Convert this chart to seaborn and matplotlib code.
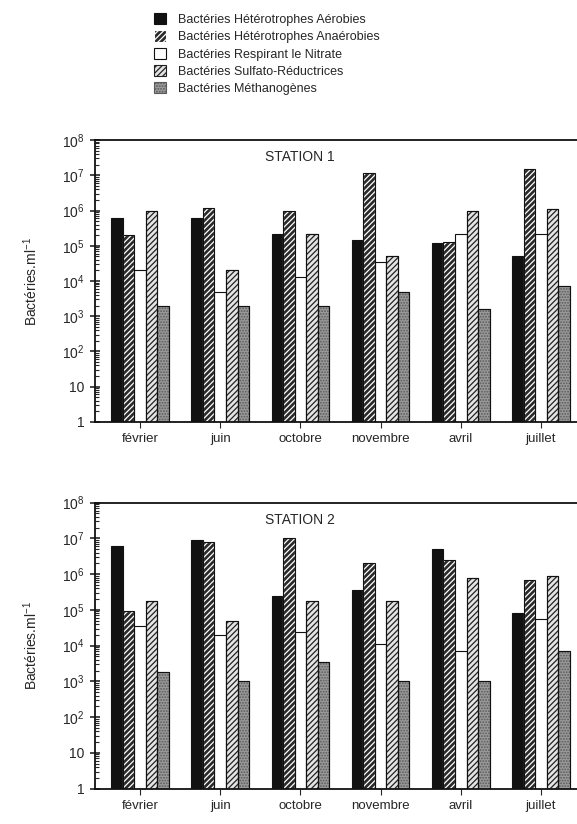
# Abondance des groupes bactériens - stations 1 et 2
import numpy as np
import pandas as pd
import matplotlib.pyplot as plt
import seaborn as sns
from matplotlib.patches import Patch, Rectangle
from matplotlib.ticker import FuncFormatter, LogLocator, NullFormatter

mois = ["février", "juin", "octobre", "novembre", "avril", "juillet"]
groupes = ["Bactéries Hétérotrophes Aérobies",
           "Bactéries Hétérotrophes Anaérobies",
           "Bactéries Respirant le Nitrate",
           "Bactéries Sulfato-Réductrices",
           "Bactéries Méthanogènes"]

# Station 1 (bactéries / ml)
s1_aerobies = [6e5, 6e5, 2.2e5, 1.5e5, 1.2e5, 5e4]
s1_anaerobies = [2e5, 1.2e6, 1e6, 1.2e7, 1.3e5, 1.5e7]
s1_nitrate = [2e4, 5e3, 1.3e4, 3.5e4, 2.2e5, 2.2e5]
s1_sulfato = [1e6, 2e4, 2.2e5, 5e4, 1e6, 1.1e6]
s1_methano = [2e3, 2e3, 2e3, 5e3, 1.6e3, 7e3]

# Station 2
s2_aerobies = [6e6, 9e6, 2.5e5, 3.5e5, 5e6, 8e4]
s2_anaerobies = [9e4, 8e6, 1e7, 2e6, 2.5e6, 7e5]
s2_nitrate = [3.5e4, 2e4, 2.4e4, 1.1e4, 7e3, 5.5e4]
s2_sulfato = [1.8e5, 5e4, 1.8e5, 1.8e5, 8e5, 9e5]
s2_methano = [1.8e3, 1e3, 3.5e3, 1e3, 1e3, 7e3]

stations = {
    "STATION 1": [s1_aerobies, s1_anaerobies, s1_nitrate, s1_sulfato, s1_methano],
    "STATION 2": [s2_aerobies, s2_anaerobies, s2_nitrate, s2_sulfato, s2_methano],
}

# style de remplissage de chaque groupe : (fond, couleur des hachures, hachures)
styles = [("#111111", "#111111", ""),
          ("#2a2a2a", "white", "//////"),
          ("white", "#111111", ""),
          ("#e4e4e4", "#222222", "//////"),
          ("#9a9a9a", "#5a5a5a", "......")]

sns.set_style("ticks")
plt.rcParams["font.family"] = ["Liberation Sans", "DejaVu Sans"]
plt.rcParams["mathtext.fontset"] = "custom"
plt.rcParams["mathtext.rm"] = "Liberation Sans"
plt.rcParams["hatch.linewidth"] = 0.9


def etiquette(v, pos):
    n = int(round(np.log10(v)))
    if n == 0:
        return "1"
    if n == 1:
        return "10"
    return r"$\mathregular{10^{%d}}$" % n


fig = plt.figure(figsize=(5.77, 8.24), dpi=100)
positions = {"STATION 1": [0.165, 0.488, 0.835, 0.342],
             "STATION 2": [0.165, 0.043, 0.835, 0.347]}

for nom, series in stations.items():
    ax = fig.add_axes(positions[nom])
    df = pd.DataFrame({
        "mois": np.repeat([mois], len(groupes), axis=0).ravel(),
        "groupe": np.repeat(groupes, len(mois)),
        "valeur": np.concatenate(series),
    })
    sns.barplot(data=df, x="mois", y="valeur", hue="groupe", order=mois,
                hue_order=groupes, palette=[s[0] for s in styles],
                width=0.72, gap=0, edgecolor="#111111", linewidth=0.8,
                legend=False, ax=ax)
    ax.set_yscale("log")
    for cont, (fc, hc, hatch) in zip(ax.containers, styles):
        for p in cont.patches:
            p.set_facecolor(fc)
            if hatch:
                p.set_hatch(hatch)
                p.set_edgecolor(hc)
                # contour noir par-dessus
                ax.add_patch(Rectangle(p.get_xy(), p.get_width(), p.get_height(),
                                       fill=False, edgecolor="#111111",
                                       linewidth=0.8, zorder=p.get_zorder() + 0.1))
    ax.set_ylim(1, 1e8)
    ax.set_xlim(-0.56, 5.45)
    ax.yaxis.set_major_locator(LogLocator(base=10, numticks=10))
    ax.yaxis.set_major_formatter(FuncFormatter(etiquette))
    ax.yaxis.set_minor_locator(LogLocator(base=10, subs=np.arange(2, 10), numticks=10))
    ax.yaxis.set_minor_formatter(NullFormatter())
    ax.tick_params(axis="y", which="major", direction="inout", length=7, width=1.2,
                   labelsize=10, pad=4)
    ax.tick_params(axis="y", which="minor", direction="in", length=3, width=0.8)
    ax.tick_params(axis="x", direction="out", length=4, labelsize=9.5, pad=4)
    ax.set_xlabel("")
    ax.set_ylabel(r"Bactéries.ml$\mathregular{^{-1}}$", fontsize=10, labelpad=16)
    for cote in ["left", "bottom", "top"]:
        ax.spines[cote].set_linewidth(1.3)
        ax.spines[cote].set_color("#111111")
    ax.spines["right"].set_visible(False)
    ax.text(0.425, 0.965, nom, transform=ax.transAxes, ha="center", va="top",
            fontsize=10)

# légende en haut de la figure
poignees = [Patch(facecolor=fc, edgecolor=("#111111" if not h else hc), hatch=h,
                  linewidth=0.8) for fc, hc, h in styles]
fig.legend(poignees, groupes, loc="upper left", bbox_to_anchor=(0.258, 0.99),
           frameon=False, fontsize=9, handlelength=1.0, handleheight=1.0,
           handletextpad=0.9, labelspacing=0.35, borderaxespad=0)

fig.savefig("out.png", dpi=100)
